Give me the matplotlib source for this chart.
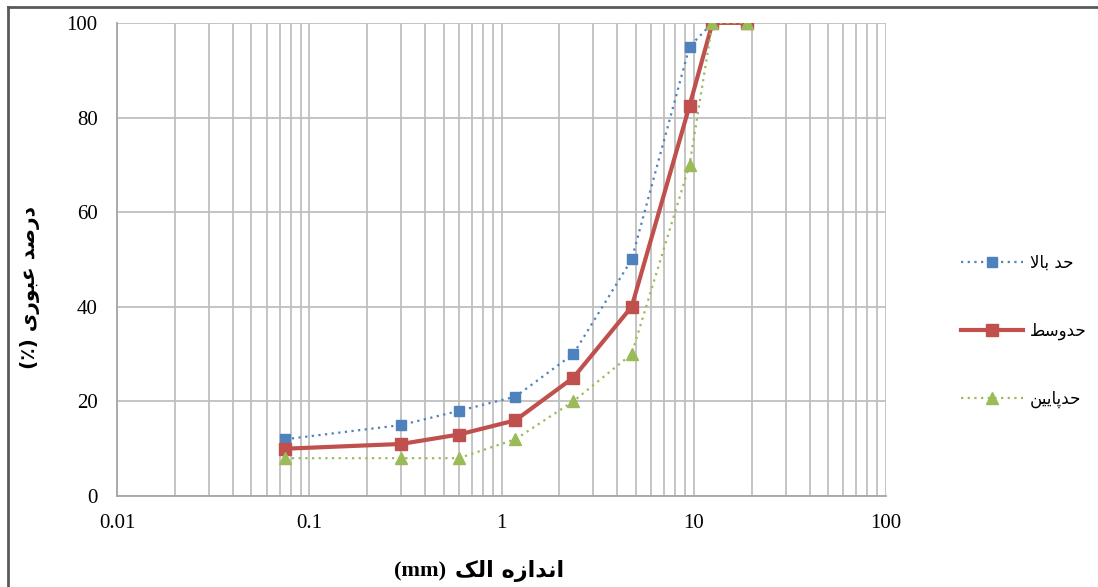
import matplotlib
matplotlib.use('Agg')
import matplotlib.pyplot as plt
from matplotlib.lines import Line2D
from matplotlib.ticker import LogLocator, NullFormatter, FixedLocator

sieve = [0.075, 0.3, 0.6, 1.18, 2.36, 4.75, 9.5, 12.5, 19]
upper = [12, 15, 18, 21, 30, 50, 95, 100, 100]
middle = [10, 11, 13, 16, 25, 40, 82.5, 100, 100]
lower = [8, 8, 8, 12, 20, 30, 70, 100, 100]
names = ['حد بالا', 'حدوسط', 'حدپایین']
x_title = 'اندازه الک'
y_title = 'درصد عبوری (٪)'

# matplotlib does no Arabic shaping, so pick presentation forms by hand
# (isolated, final, initial, medial); None -> letter does not join forward
FORMS = {
    'ا': ('\uFE8D', '\uFE8E', None, None),
    'ب': ('\uFE8F', '\uFE90', '\uFE91', '\uFE92'),
    'پ': ('\uFB56', '\uFB57', '\uFB58', '\uFB59'),
    'ح': ('\uFEA1', '\uFEA2', '\uFEA3', '\uFEA4'),
    'د': ('\uFEA9', '\uFEAA', None, None),
    'ر': ('\uFEAD', '\uFEAE', None, None),
    'ز': ('\uFEAF', '\uFEB0', None, None),
    'س': ('\uFEB1', '\uFEB2', '\uFEB3', '\uFEB4'),
    'ص': ('\uFEB9', '\uFEBA', '\uFEBB', '\uFEBC'),
    'ط': ('\uFEC1', '\uFEC2', '\uFEC3', '\uFEC4'),
    'ع': ('\uFEC9', '\uFECA', '\uFECB', '\uFECC'),
    'ک': ('\uFB8E', '\uFB8F', '\uFB90', '\uFB91'),
    'ل': ('\uFEDD', '\uFEDE', '\uFEDF', '\uFEE0'),
    'ن': ('\uFEE5', '\uFEE6', '\uFEE7', '\uFEE8'),
    'ه': ('\uFEE9', '\uFEEA', '\uFEEB', '\uFEEC'),
    'و': ('\uFEED', '\uFEEE', None, None),
    'ی': ('\uFBFC', '\uFBFD', '\uFBFE', '\uFBFF'),
}
MIRROR = {'(': ')', ')': '('}


def shape(text):
    out = []
    chars = list(text)
    i = 0
    while i < len(chars):
        c = chars[i]
        if c not in FORMS:
            out.append(MIRROR.get(c, c))
            i += 1
            continue
        prev = chars[i - 1] if i > 0 else ''
        joins_prev = prev in FORMS and FORMS[prev][2] is not None
        # lam + alef ligature
        if c == 'ل' and i + 1 < len(chars) and chars[i + 1] == 'ا':
            out.append('\uFEFC' if joins_prev else '\uFEFB')
            i += 2
            continue
        nxt = chars[i + 1] if i + 1 < len(chars) else ''
        joins_next = nxt in FORMS and FORMS[c][2] is not None
        iso, fin, ini, med = FORMS[c]
        if joins_prev and joins_next:
            out.append(med)
        elif joins_prev:
            out.append(fin)
        elif joins_next:
            out.append(ini)
        else:
            out.append(iso)
        i += 1
    return ''.join(reversed(out))


plt.rcParams['font.family'] = ['Liberation Serif', 'DejaVu Sans']

fig = plt.figure(figsize=(10.98, 5.87), dpi=100)
ax = fig.add_axes([0.1066, 0.155, 0.7004, 0.806])

ax.plot(sieve, upper, color='#4F81BD', lw=1.6, ls=(0, (1, 2)), marker='s', ms=7,
        label=shape(names[0]))
ax.plot(sieve, middle, color='#C0504D', lw=3, marker='s', ms=8,
        label=shape(names[1]))
ax.plot(sieve, lower, color='#9BBB59', lw=1.6, ls=(0, (1, 2)), marker='^', ms=8,
        label=shape(names[2]))

ax.set_xscale('log')
ax.set_xlim(0.01, 100)
ax.set_ylim(0, 100)
ax.yaxis.set_major_locator(FixedLocator([0, 20, 40, 60, 80, 100]))
ax.xaxis.set_major_locator(LogLocator(base=10))
ax.xaxis.set_minor_locator(LogLocator(base=10, subs=range(2, 10)))
ax.xaxis.set_minor_formatter(NullFormatter())
ax.set_xticks([0.01, 0.1, 1, 10, 100])
ax.set_xticklabels(['0.01', '0.1', '1', '10', '100'])

ax.grid(True, which='major', color='#BFBFBF', lw=1.3)
ax.grid(True, which='minor', axis='x', color='#BFBFBF', lw=1.3)
ax.set_axisbelow(True)
for s in ['top', 'right']:
    ax.spines[s].set_visible(False)
for s in ['left', 'bottom']:
    ax.spines[s].set_color('#A6A6A6')
    ax.spines[s].set_linewidth(1.3)
ax.tick_params(which='both', length=0, labelsize=15)
ax.tick_params(axis='x', pad=13)
ax.tick_params(axis='y', pad=14)

fig.text(0.027, 0.511, shape(y_title), rotation=90, ha='center', va='center',
         fontsize=14.5, fontweight='bold', family=['DejaVu Sans'])
fig.text(0.414, 0.027, shape(x_title), ha='left', va='center', fontsize=16,
         fontweight='bold', family=['DejaVu Sans'])
fig.text(0.406, 0.027, '(mm)', ha='right', va='center', fontsize=16,
         fontweight='bold', family=['Liberation Serif'])

leg = fig.legend(loc='center left', bbox_to_anchor=(0.868, 0.436), frameon=False,
                 prop={'family': 'DejaVu Sans', 'size': 12}, labelspacing=3.0,
                 handlelength=3.7, handletextpad=0.4, borderpad=0)

# outer chart frame (left and top edges visible)
fig.add_artist(Line2D([0.0077, 0.0077], [0.0, 0.988], color='#595959', lw=2,
                      transform=fig.transFigure))
fig.add_artist(Line2D([0.0077, 1.01], [0.988, 0.988], color='#595959', lw=2,
                      transform=fig.transFigure))

fig.savefig('out.png', dpi=100)
